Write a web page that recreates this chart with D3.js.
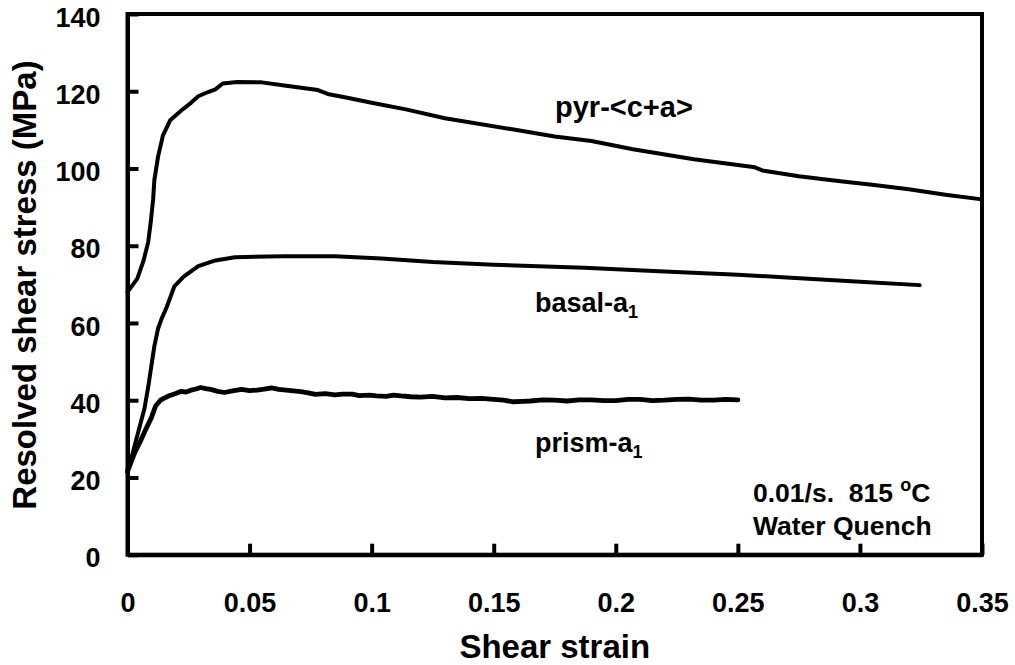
<!DOCTYPE html>
<html>
<head>
<meta charset="utf-8">
<script src="https://cdn.jsdelivr.net/npm/d3@7"></script>
<style>
  html, body { margin: 0; padding: 0; background: #fff; }
  svg { display: block; }
  text { font-family: Arial, "Liberation Sans", sans-serif; font-weight: bold; fill: #000; }
</style>
</head>
<body>
<svg id="chart" width="1015" height="665"></svg>
<script>
// ---------- data ----------
const xTicks = [0, 0.05, 0.1, 0.15, 0.2, 0.25, 0.3, 0.35];
const xTickLabels = ["0", "0.05", "0.1", "0.15", "0.2", "0.25", "0.3", "0.35"];
const yTicks = [0, 20, 40, 60, 80, 100, 120, 140];
const yTickLabels = ["0", "20", "40", "60", "80", "100", "120", "140"];

const pyrStrain = [0, 0.004, 0.0065, 0.0085, 0.0095, 0.0105, 0.011, 0.0125, 0.0145, 0.0175, 0.022, 0.026, 0.029, 0.033, 0.036, 0.039, 0.045, 0.055, 0.065, 0.078, 0.082, 0.09, 0.1, 0.114, 0.13, 0.157, 0.175, 0.19, 0.207, 0.232, 0.257, 0.26, 0.275, 0.292, 0.305, 0.32, 0.335, 0.35];
const pyrStress = [68, 71.5, 76, 81, 86, 92, 97, 103, 108.5, 112.5, 115, 117, 118.7, 119.8, 120.5, 122, 122.4, 122.3, 121.4, 120.3, 119.3, 118.3, 117, 115.3, 113, 110.2, 108.3, 107.1, 105, 102.4, 100.3, 99.5, 98, 96.7, 95.8, 94.6, 93.2, 92];

const basalStrain = [0, 0.002, 0.0045, 0.007, 0.0085, 0.0098, 0.011, 0.0125, 0.0139, 0.016, 0.0192, 0.023, 0.029, 0.036, 0.044, 0.064, 0.085, 0.104, 0.125, 0.15, 0.187, 0.22, 0.25, 0.27, 0.3, 0.3245];
const basalStress = [22, 26, 32, 38, 43.5, 49, 54, 58.5, 61, 64, 69.5, 72, 74.7, 76.2, 77, 77.3, 77.3, 76.7, 75.8, 75.1, 74.3, 73.3, 72.5, 71.8, 70.7, 69.8];

const prismStrain = [0, 0.0015, 0.003, 0.005, 0.0075, 0.0098, 0.0115, 0.0135, 0.0165, 0.02, 0.022, 0.024, 0.026, 0.028, 0.03, 0.032, 0.034, 0.037, 0.0397, 0.043, 0.0467, 0.05, 0.053, 0.056, 0.059, 0.062, 0.065, 0.068, 0.071, 0.074, 0.077, 0.081, 0.085, 0.088, 0.092, 0.095, 0.099, 0.102, 0.106, 0.109, 0.112, 0.116, 0.12, 0.125, 0.13, 0.135, 0.14, 0.145, 0.15, 0.154, 0.158, 0.162, 0.165, 0.17, 0.175, 0.18, 0.185, 0.19, 0.195, 0.2, 0.205, 0.21, 0.215, 0.22, 0.225, 0.23, 0.235, 0.24, 0.245, 0.25];
const prismStress = [21.5, 24, 26.5, 29, 32.5, 35.5, 38.5, 40, 41, 41.8, 42.3, 42.1, 42.6, 42.9, 43.3, 43.0, 42.8, 42.3, 42.0, 42.4, 42.8, 42.5, 42.6, 42.9, 43.2, 42.8, 42.6, 42.4, 42.2, 41.9, 41.5, 41.7, 41.4, 41.6, 41.6, 41.2, 41.3, 41.1, 41.0, 41.3, 41.1, 40.9, 40.8, 41.0, 40.6, 40.7, 40.4, 40.5, 40.2, 40.0, 39.6, 39.7, 39.8, 40.1, 40.0, 39.8, 40.1, 40.1, 39.9, 39.9, 40.2, 40.2, 39.9, 40.0, 40.2, 40.3, 40.0, 40.0, 40.2, 40.1];

// ---------- layout ----------
const svg = d3.select("#chart");
const pLeft = 127.5, pRight = 982, pTop = 14, pBottom = 554.7;

const x = d3.scaleLinear().domain([0, 0.35]).range([pLeft, pRight]);
const y = d3.scaleLinear().domain([0, 140]).range([pBottom, pTop]);

const AXW = 4;

// frame (top & right)
svg.append("rect")
  .attr("x", pLeft).attr("y", pTop)
  .attr("width", pRight - pLeft).attr("height", pBottom - pTop)
  .attr("fill", "none").attr("stroke", "#000").attr("stroke-width", AXW);

// x axis
const xAxis = d3.axisBottom(x).tickValues(xTicks)
  .tickFormat((d, i) => xTickLabels[i])
  .tickSizeInner(-11).tickSizeOuter(0);
const gx = svg.append("g").attr("transform", `translate(0,${pBottom})`).call(xAxis);
gx.select(".domain").attr("stroke-width", AXW).attr("stroke", "#000");
gx.selectAll(".tick line").attr("stroke-width", AXW).attr("stroke", "#000");
gx.selectAll(".tick text")
  .attr("y", 57).attr("dy", null)
  .style("font-size", "27px").style("font-family", "Arial, 'Liberation Sans', sans-serif").style("font-weight", "bold");

// y axis
const yAxis = d3.axisLeft(y).tickValues(yTicks)
  .tickFormat((d, i) => yTickLabels[i])
  .tickSizeInner(-11).tickSizeOuter(0);
const gy = svg.append("g").attr("transform", `translate(${pLeft},0)`).call(yAxis);
gy.select(".domain").attr("stroke-width", AXW).attr("stroke", "#000");
gy.selectAll(".tick line").attr("stroke-width", AXW).attr("stroke", "#000");
gy.selectAll(".tick text")
  .attr("x", -27).attr("dy", "0.45em")
  .style("font-size", "27px").style("font-family", "Arial, 'Liberation Sans', sans-serif").style("font-weight", "bold");

// axis titles
svg.append("text")
  .attr("x", (pLeft + pRight) / 2).attr("y", 658)
  .attr("text-anchor", "middle")
  .style("font-size", "33px")
  .text("Shear strain");

svg.append("text")
  .attr("transform", `translate(36,285) rotate(-90)`)
  .attr("text-anchor", "middle")
  .style("font-size", "33px")
  .text("Resolved shear stress (MPa)");

// curves
const line = d3.line().x(d => x(d[0])).y(d => y(d[1])).curve(d3.curveLinear);
function series(xs, ys) { return xs.map((v, i) => [v, ys[i]]); }

svg.append("path").datum(series(pyrStrain, pyrStress))
  .attr("d", line).attr("fill", "none").attr("stroke", "#000")
  .attr("stroke-width", 4).attr("stroke-linejoin", "round").attr("stroke-linecap", "round");
svg.append("path").datum(series(basalStrain, basalStress))
  .attr("d", line).attr("fill", "none").attr("stroke", "#000")
  .attr("stroke-width", 4).attr("stroke-linejoin", "round").attr("stroke-linecap", "round");
svg.append("path").datum(series(prismStrain, prismStress))
  .attr("d", line).attr("fill", "none").attr("stroke", "#000")
  .attr("stroke-width", 4.8).attr("stroke-linejoin", "round").attr("stroke-linecap", "round");

// annotations
svg.append("text").attr("x", 555).attr("y", 117).style("font-size", "29px").text("pyr-<c+a>");

const tb = svg.append("text").attr("x", 535).attr("y", 312).style("font-size", "27px");
tb.append("tspan").text("basal-a");
tb.append("tspan").attr("dy", 6).style("font-size", "18px").text("1");

const tp = svg.append("text").attr("x", 535).attr("y", 452).style("font-size", "27px");
tp.append("tspan").text("prism-a");
tp.append("tspan").attr("dy", 6).style("font-size", "18px").text("1");

const tc = svg.append("text").attr("x", 753).attr("y", 502).style("font-size", "26.5px");
tc.append("tspan").text("0.01/s.\u00a0\u00a0815 ");
tc.append("tspan").attr("dy", -11).style("font-size", "18px").text("o");
tc.append("tspan").attr("dy", 11).text("C");

svg.append("text").attr("x", 753).attr("y", 535).style("font-size", "26.5px").text("Water Quench");
</script>
</body>
</html>
